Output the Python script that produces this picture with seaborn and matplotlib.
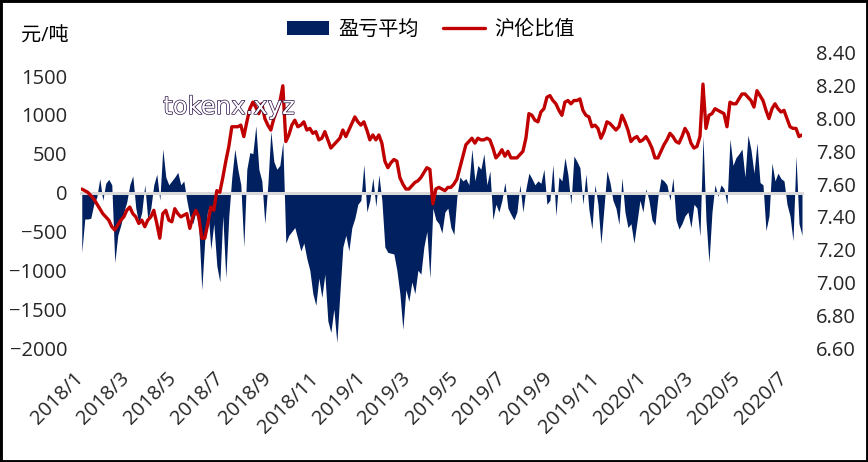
import matplotlib
matplotlib.use("Agg")
import matplotlib.pyplot as plt
import matplotlib.dates as mdates
import matplotlib.patheffects as pe
from matplotlib.patches import Rectangle
from matplotlib.ticker import FuncFormatter
import pandas as pd
import seaborn as sns

# sample dates (evenly spaced, ~2 per week)
dates = pd.date_range("2018-01-02", "2020-07-24", periods=241)

# 盈亏平均 (元/吨)
profit = [
    -770, -340, -340, -330, -150, -60, 180, -100, 120, 170,
    100, -900, -550, -420, -250, -120, 100, 215, -200, -400,
    -250, 100, -350, -200, 100, 236, -100, 560, 200, 100,
    150, 200, 260, 100, 150, -100, -300, -400, -250, -450,
    -1250, -600, -200, -730, -400, -940, -1150, -300, -1100, -300,
    200, 560, 300, 100, -700, 300, 515, 500, 860, 300,
    150, -400, 100, 790, 400, 300, 350, 650, -650, -550,
    -500, -450, -600, -750, -650, -850, -1000, -1300, -1450, -1100,
    -1350, -1050, -1650, -1800, -1500, -1930, -1300, -700, -550, -750,
    -450, -330, -150, -100, 360, -250, -100, 190, -180, 230,
    -100, -700, -770, -780, -790, -1000, -1300, -1760, -1250, -1400,
    -1150, -1300, -1000, -1050, -700, -500, -1100, -200, -350, -400,
    -520, -250, -200, -450, -540, -50, 200, 150, 180, 100,
    560, 150, 350, 300, 500, 100, 280, -350, -150, -250,
    -100, 130, -200, -280, -350, -250, 100, -250, 50, 250,
    180, 100, 150, 120, 300, -150, -100, 360, -300, 200,
    150, 450, 230, -150, 470, 400, 320, -150, 240, -220,
    -470, 100, -150, -660, -200, 280, 130, -100, -200, -410,
    190, -250, -450, -400, -650, -380, -100, -250, 50, -100,
    -350, -420, -50, 180, 150, 100, -100, 190, -350, -470,
    -400, -300, -250, -450, -150, -200, -560, 730, -350, -900,
    -250, 100, -50, 100, 50, -150, 690, 350, 450, 500,
    560, 200, 740, 550, 250, 640, 130, 100, -490, -300,
    380, 150, 250, 180, 150, -150, -300, -620, 470, -400,
    -550,
]

# 沪伦比值
ratio = [
    7.57, 7.56, 7.55, 7.53, 7.51, 7.48, 7.45, 7.42, 7.40, 7.38,
    7.34, 7.32, 7.35, 7.38, 7.40, 7.44, 7.46, 7.42, 7.40, 7.36,
    7.38, 7.34, 7.38, 7.40, 7.44, 7.36, 7.27, 7.42, 7.44, 7.38,
    7.37, 7.45, 7.42, 7.40, 7.41, 7.42, 7.33, 7.40, 7.44, 7.40,
    7.27, 7.27, 7.36, 7.46, 7.44, 7.56, 7.55, 7.64, 7.74, 7.83,
    7.95, 7.95, 7.95, 7.96, 7.89, 7.98, 8.06, 8.10, 8.07, 8.03,
    8.09, 8.00, 7.96, 7.93, 8.00, 8.05, 8.10, 8.20, 7.86, 7.90,
    7.96, 7.99, 7.95, 7.96, 7.98, 7.93, 7.94, 7.91, 7.92, 7.87,
    7.88, 7.92, 7.87, 7.82, 7.84, 7.86, 7.88, 7.93, 7.89, 7.93,
    7.97, 8.01, 7.98, 7.96, 7.98, 7.93, 7.87, 7.90, 7.87, 7.90,
    7.85, 7.74, 7.70, 7.73, 7.75, 7.74, 7.64, 7.60, 7.57, 7.57,
    7.59, 7.61, 7.62, 7.64, 7.67, 7.70, 7.69, 7.48, 7.57, 7.58,
    7.57, 7.56, 7.58, 7.58, 7.60, 7.63, 7.70, 7.77, 7.84, 7.86,
    7.88, 7.85, 7.88, 7.87, 7.87, 7.88, 7.87, 7.82, 7.76, 7.78,
    7.81, 7.77, 7.80, 7.76, 7.76, 7.76, 7.78, 7.80, 7.88, 8.03,
    8.02, 7.99, 7.98, 8.04, 8.06, 8.13, 8.14, 8.11, 8.09, 8.05,
    8.02, 8.10, 8.11, 8.09, 8.11, 8.11, 8.12, 8.05, 8.02, 8.01,
    7.95, 7.96, 7.94, 7.88, 7.92, 7.98, 7.97, 7.95, 7.93, 7.95,
    8.02, 7.98, 7.93, 7.86, 7.88, 7.89, 7.86, 7.87, 7.89, 7.86,
    7.82, 7.76, 7.76, 7.80, 7.84, 7.87, 7.91, 7.89, 7.86, 7.85,
    7.89, 7.94, 7.91, 7.85, 7.82, 7.83, 7.89, 8.21, 7.94, 8.02,
    8.03, 8.06, 8.05, 8.04, 8.03, 7.95, 8.10, 8.09, 8.09, 8.12,
    8.15, 8.15, 8.13, 8.11, 8.07, 8.17, 8.14, 8.11, 8.05, 8.00,
    8.06, 8.09, 8.06, 8.04, 8.05, 8.00, 7.95, 7.94, 7.94, 7.89,
    7.90,
]

left_ticks = [-2000, -1500, -1000, -500, 0, 500, 1000, 1500]
right_ticks = [6.6, 6.8, 7.0, 7.2, 7.4, 7.6, 7.8, 8.0, 8.2, 8.4]

NAVY = "#002060"
RED = "#C00000"
GRID_GREY = "#D9D9D9"

df = pd.DataFrame({"date": dates, "profit": profit, "ratio": ratio})

sns.set_theme(style="white")
plt.rcParams["font.family"] = ["Open Sans", "Noto Sans CJK SC", "DejaVu Sans"]
plt.rcParams["font.size"] = 14.5
plt.rcParams["text.color"] = "black"

fig = plt.figure(figsize=(8.68, 4.62), dpi=100)
ax = fig.add_axes([81 / 868, 1 - 348 / 462, (802 - 81) / 868, (348 - 53) / 462])
ax2 = ax.twinx()

# area: profit
area = ax.fill_between(df["date"], 0, df["profit"], color=NAVY, linewidth=0,
                       label="盈亏平均", zorder=1)
ax.set_ylim(-2000, 1796)
ax.set_yticks(left_ticks)
ax.set_xlim(pd.Timestamp("2018-01-01"), df["date"].iloc[-1])

# line: ratio
sns.lineplot(data=df, x="date", y="ratio", ax=ax2, color=RED, linewidth=2.4,
             label="沪伦比值", legend=False)
ax2.set_ylim(6.6, 8.4)
ax2.set_yticks(right_ticks)
ax2.yaxis.set_major_formatter(FuncFormatter(lambda v, _: f"{v:.2f}"))
ax2.set_ylabel("")
ax2.set_xlabel("")
ax.set_xlabel("")
ax.set_ylabel("")

# x axis: grey axis line at zero with ticks, labels at the bottom
ax.xaxis.set_major_locator(mdates.MonthLocator(bymonth=[1, 3, 5, 7, 9, 11]))
ax.xaxis.set_major_formatter(FuncFormatter(
    lambda v, _: f"{mdates.num2date(v).year}/{mdates.num2date(v).month}"))

for side in ["top", "left", "right"]:
    ax.spines[side].set_visible(False)
ax.spines["bottom"].set_position(("data", 0))
ax.spines["bottom"].set_color(GRID_GREY)
ax.spines["bottom"].set_linewidth(2.2)
ax.tick_params(axis="x", direction="out", length=6, width=1.8, color=GRID_GREY,
               labelbottom=False)
ax.tick_params(axis="y", length=0, pad=10, labelsize=14.5)

for side in ax2.spines:
    ax2.spines[side].set_visible(False)
ax2.xaxis.set_visible(True)
ax2.tick_params(axis="x", length=0, pad=20, labelbottom=True, labelsize=14.5)
ax2.tick_params(axis="y", length=0, pad=10, labelsize=14.5)
for lbl in ax2.get_xticklabels():
    lbl.set_rotation(45)
    lbl.set_ha("right")
    lbl.set_va("center")
    lbl.set_rotation_mode("anchor")

# unit label
fig.text(45 / 868, 1 - 37 / 462, "元/吨", ha="center", va="center", fontsize=14.5)

# legend
line = ax2.get_lines()[0]
fig.legend([area, line], ["盈亏平均", "沪伦比值"], loc="center", ncol=2,
           bbox_to_anchor=(431 / 868, 1 - 30 / 462), frameon=False,
           handlelength=2.1, handleheight=0.65, handletextpad=0.45,
           columnspacing=1.2, fontsize=14.5)

# watermark
fig.text(229 / 868, 1 - 107 / 462, "tokenx.xyz", ha="center", va="center",
         fontsize=17.5, family="DejaVu Sans", color="white", zorder=10,
         path_effects=[pe.Stroke(linewidth=1.0, foreground="#2b0f45"), pe.Normal()])

# outer frame
fig.add_artist(Rectangle((0, 0), 1, 1, transform=fig.transFigure, fill=False,
                         edgecolor="black", linewidth=3.5))

fig.savefig("out.png", dpi=100)
